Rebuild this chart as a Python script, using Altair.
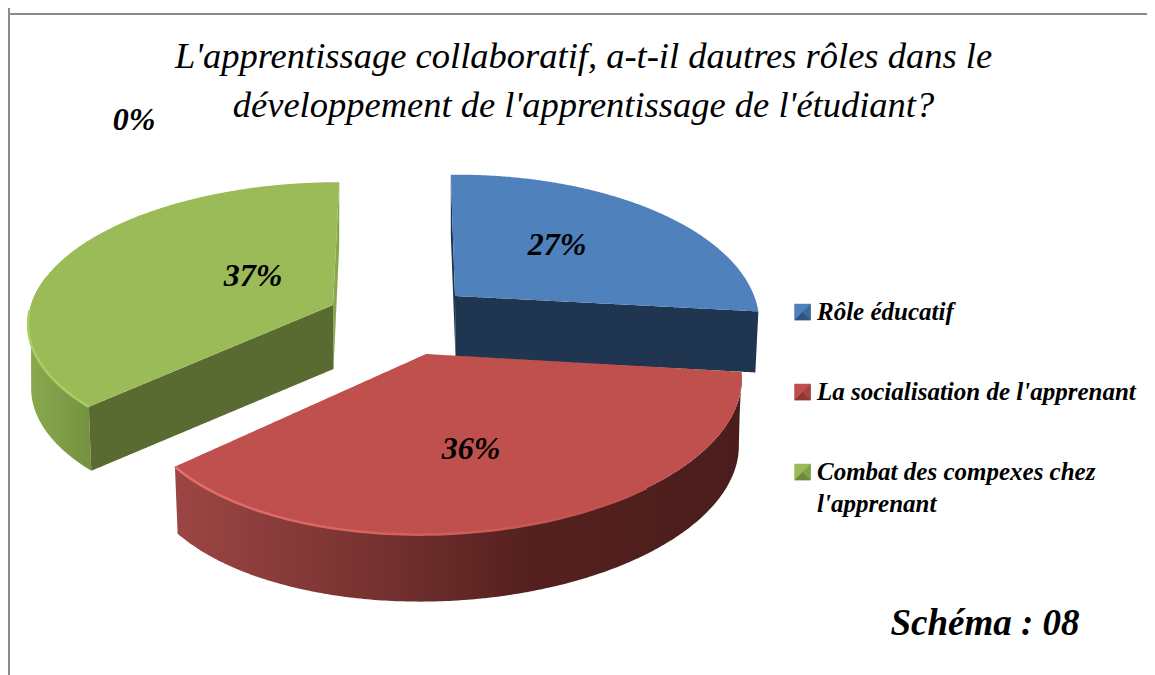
import numpy as np
import pandas as pd
import altair as alt

# ---- chart content ----
title_lines = ["L'apprentissage collaboratif, a-t-il dautres rôles dans le",
               "développement de l'apprentissage de l'étudiant?"]
categories = ["Rôle éducatif", "La socialisation de l'apprenant",
              "Combat des compexes chez\nl'apprenant"]
shares = [27, 36, 37, 0]
caption = "Schéma : 08"

# ---- look ----
top_colors = ["#4f81bd", "#c0504d", "#9bbb59"]
cut_colors = ["#1f3550", "#5c2a29", "#5a6b32"]
sliver_colors = ["#1f3550", "#5c2a29", "#8aa64e"]
dark_swatch = ["#2f5480", "#8a3735", "#6d8a3c"]
mid_swatch = ["#3d6898", "#a54442", "#83a04a"]
# centre x,y; radii; perspective; vanishing shift; tilt; wall depth; apex x
geom = [
    dict(cx=455, cy=296, rx=298, ry=144, k=0.187, sx=-5, ty=-3, d=61, ax=455),
    dict(cx=445, cy=354, rx=292.5, ry=138, k=0.236, sx=19.3, ty=0, d=67, ax=426),
    dict(cx=333, cy=305, rx=302, ry=137, k=0.115, sx=7, ty=0, d=64, ax=333),
]
label_x = [557, 471, 253, 134]
label_y = [245, 449, 276, 120]
legend_x = 802.5
legend_y = [312, 392, 472]
legend_text_x = 817
FONT = "Liberation Serif"
X0, Y0, W, H = 8, 8, 1139, 667

x_scale = alt.Scale(domain=[X0, X0 + W], range=[0, W], nice=False, zero=False)
y_scale = alt.Scale(domain=[Y0, Y0 + H], range=[0, H], nice=False, zero=False)
X = lambda f: alt.X(f, type="quantitative", scale=x_scale, axis=None)
Y = lambda f: alt.Y(f, type="quantitative", scale=y_scale, axis=None)
Y2 = lambda f: alt.Y2(f)


def gradient(*stops):
    return alt.LinearGradient(gradient="linear", x1=0, x2=1, y1=0, y2=0,
                              stops=[alt.GradientStop(color=c, offset=o) for c, o in stops])


def project(g, deg, z=0.0):
    t = np.radians(deg)
    u, v = np.sin(t), np.cos(t)
    w = 1 + g["k"] * v
    x = g["cx"] + (g["rx"] * u + g["sx"] * v) / w
    y = g["cy"] + (g["ty"] * u - g["ry"] * v) / w
    if z:
        x = g["cx"] + (x - g["cx"]) * 0.99
        y = y + z
    return x, y


def envelope(poly):
    """Polygon -> upper and lower y for each x, for an area mark."""
    pts = np.array(poly, dtype=float)
    xs = np.unique(np.concatenate([pts[:, 0], np.linspace(pts[:, 0].min(), pts[:, 0].max(), 160)]))
    a, b = pts, np.roll(pts, -1, axis=0)
    rows = []
    for x in xs:
        ys = []
        for (x1, y1), (x2, y2) in zip(a, b):
            if min(x1, x2) <= x <= max(x1, x2):
                if x1 == x2:
                    ys += [y1, y2]
                else:
                    ys.append(y1 + (y2 - y1) * (x - x1) / (x2 - x1))
        if ys:
            rows.append(dict(x=float(x), y=min(ys), y2=max(ys)))
    return pd.DataFrame(rows)


def area(poly, fill):
    return alt.Chart(envelope(poly)).mark_area(fill=fill, strokeWidth=0, opacity=1, interpolate="linear").encode(
        x=X("x"), y=Y("y"), y2=Y2("y2"))


edges = np.cumsum([0] + shares) * 3.6
layers = []


def arc_pts(g, a, b, z=0.0, n=70):
    return [project(g, t, z) for t in np.linspace(a, b, n)]


def apex(g, z=0.0):
    x = g["ax"] + (0.5 if z else 0)
    return (x, g["cy"] + z)


def top_face(i):
    g = geom[i]
    return area([apex(g)] + arc_pts(g, edges[i], edges[i + 1]), top_colors[i])


# blue slice
g = geom[0]
layers.append(area([apex(g), project(g, 0), project(g, 0, g["d"]), apex(g, g["d"])], sliver_colors[0]))
layers.append(area([apex(g), project(g, edges[1]), project(g, edges[1], g["d"]), apex(g, g["d"])], cut_colors[0]))
layers.append(top_face(0))

# green slice
g = geom[2]
layers.append(area([apex(g), project(g, 360), project(g, 360, g["d"]), apex(g, g["d"])], sliver_colors[2]))
green_side = gradient(("#8aaa50", 0), ("#74913f", 1))
layers.append(area(arc_pts(g, edges[2], 282) + arc_pts(g, 282, edges[2], g["d"]), green_side))
layers.append(area([apex(g), project(g, edges[2]), project(g, edges[2], g["d"]), apex(g, g["d"])], cut_colors[2]))
layers.append(top_face(2))
rim = pd.DataFrame(arc_pts(g, edges[2], 268), columns=["x", "y"]).assign(o=lambda d: d.index)
layers.append(alt.Chart(rim).mark_line(stroke="#a9cf62", strokeWidth=2.5).encode(x=X("x"), y=Y("y"), order=alt.Order("o:Q")))

# red slice
g = geom[1]
red_side = gradient(("#9c4644", 0), ("#7c3533", 0.3), ("#55211f", 0.62), ("#4a1d1c", 1))
layers.append(area(arc_pts(g, edges[1], edges[2]) + arc_pts(g, edges[2], edges[1], g["d"]), red_side))
layers.append(top_face(1))
rim = pd.DataFrame(arc_pts(g, edges[1] + 45, edges[2]), columns=["x", "y"]).assign(o=lambda d: d.index)
rim_stroke = gradient(("#e4706c", 0), ("#c0504d", 1))
layers.append(alt.Chart(rim).mark_line(stroke=rim_stroke, strokeWidth=2.5).encode(x=X("x"), y=Y("y"), order=alt.Order("o:Q")))

# frame
layers.append(alt.Chart(pd.DataFrame({"x": [X0 + 1]})).mark_rule(color="#8c8c8c", strokeWidth=2).encode(x=X("x")))
layers.append(alt.Chart(pd.DataFrame({"y": [14]})).mark_rule(color="#8c8c8c", strokeWidth=2).encode(y=Y("y")))

# value labels
labs = pd.DataFrame({"x": label_x, "y": label_y, "t": [f"{s}%" for s in shares]})
layers.append(alt.Chart(labs).mark_text(font=FONT, fontStyle="italic", fontWeight="bold", fontSize=32,
                                        color="black", baseline="middle", align="center").encode(
    x=X("x"), y=Y("y"), text="t:N"))

# legend
leg = pd.DataFrame({"x": legend_x, "y": legend_y, "c": categories, "tx": legend_text_x,
                    "by": [v + 8 for v in legend_y]})
color = alt.Color("c:N", scale=alt.Scale(domain=categories, range=top_colors), legend=None)
layers.append(alt.Chart(leg).mark_point(shape="square", filled=True, size=272, opacity=1).encode(x=X("x"), y=Y("y"), color=color))
layers.append(alt.Chart(leg).mark_point(shape="M-1,1L0,0L1,1Z", filled=True, size=272, opacity=1).encode(
    x=X("x"), y=Y("y"), color=alt.Color("c:N", scale=alt.Scale(domain=categories, range=dark_swatch), legend=None)))
layers.append(alt.Chart(leg).mark_point(shape="M1,-1L0,0L1,1Z", filled=True, size=272, opacity=1).encode(
    x=X("x"), y=Y("y"), color=alt.Color("c:N", scale=alt.Scale(domain=categories, range=mid_swatch), legend=None)))
layers.append(alt.Chart(leg).mark_text(font=FONT, fontStyle="italic", fontWeight="bold", fontSize=25, color="black",
                                       align="left", baseline="alphabetic", lineBreak="\n", lineHeight=32).encode(
    x=X("tx"), y=Y("by"), text="c:N"))

# caption
layers.append(alt.Chart(pd.DataFrame({"x": [985], "y": [635], "t": [caption]})).mark_text(
    font=FONT, fontStyle="italic", fontWeight="bold", fontSize=37, color="black", align="center", baseline="alphabetic").encode(
    x=X("x"), y=Y("y"), text="t:N"))

chart = alt.layer(*layers).resolve_scale(color="independent").properties(
    width=W, height=H, padding=0, autosize=alt.AutoSizeParams(type="none"),
    title=alt.TitleParams(text=title_lines, font=FONT, fontStyle="italic", fontWeight="normal", fontSize=36.5,
                          color="black", anchor="middle", baseline="alphabetic", lineHeight=49, offset=-146, dx=6),
).configure_view(stroke=None)
chart.save("out.html", embed_options={"renderer": "svg", "actions": False})
